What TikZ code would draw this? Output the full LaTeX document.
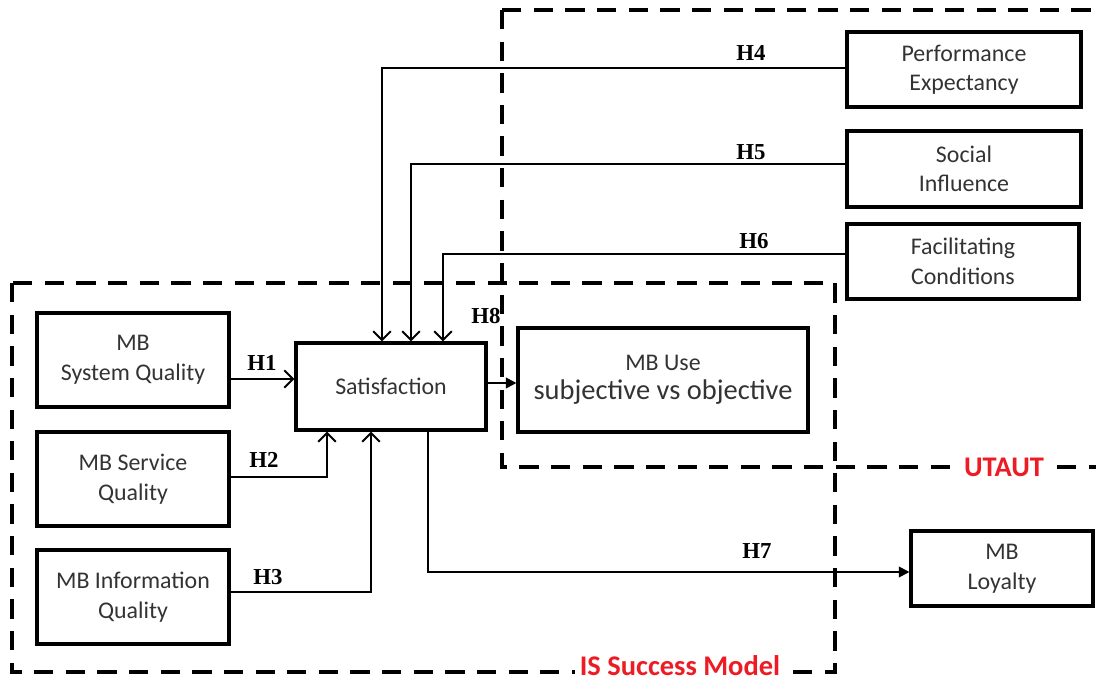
\documentclass[tikz,border=0pt]{standalone}
\usepackage{fontspec}
\setmainfont{Carlito}
\newfontfamily\hypfont{Liberation Serif}
\usetikzlibrary{arrows.meta, positioning}
\definecolor{modelred}{RGB}{237,28,36}

\begin{document}
\begin{tikzpicture}[
  x=0.02cm, y=-0.02cm,
  cons/.style={rectangle, draw, line width=1.8pt, text=black!80, align=center, inner sep=1pt, font=\fontsize{13.6}{16.8}\selectfont},
  hyp/.style={font=\hypfont\bfseries\fontsize{13}{15}\selectfont},
  lnk/.style={-{Straight Barb[length=5pt, width=10pt]}, line width=1.1pt},
  lnkf/.style={-{Triangle[length=6pt, width=6pt]}, line width=1.1pt},
  frame/.style={dash pattern=on 11pt off 7pt, line width=2.2pt},
  tag/.style={text=modelred, fill=white, inner xsep=3pt, inner ysep=0pt, font=\bfseries\fontsize{16.2}{18}\selectfont}
]
  \useasboundingbox (0,0) rectangle (1096,682);

  % model frames
  \draw[frame] (12,283) rectangle (835,672);
  \draw[frame] (502,10) rectangle (1130,467);

  % IS success side
  \node[cons, minimum width=3.84cm, minimum height=1.88cm] (sysq) at (133,360) {MB\\System Quality};
  \node[cons, minimum width=3.84cm, minimum height=1.88cm] (servq) at (133,479) {MB Service\\Quality};
  \node[cons, minimum width=3.84cm, minimum height=1.88cm] (infoq) at (133,597) {MB Information\\Quality};
  \node[cons, minimum width=3.8cm, minimum height=1.74cm] (sat) at (391,386.5) {Satisfaction};
  \node[cons, minimum width=5.8cm, minimum height=2.08cm] (use) at (663,380) {MB Use\\{\fontsize{16.2}{19}\selectfont subjective vs objective}};

  % UTAUT side
  \node[cons, minimum width=4.68cm, minimum height=1.5cm] (perf) at (964,69.5) {Performance\\Expectancy};
  \node[cons, minimum width=4.68cm, minimum height=1.52cm] (soc) at (964,169) {Social\\Influence};
  \node[cons, minimum width=4.64cm, minimum height=1.5cm] (fac) at (963,261.5) {Facilitating\\Conditions};
  \node[cons, minimum width=3.64cm, minimum height=1.5cm] (loy) at (1002,568.5) {MB\\Loyalty};

  \draw[lnk] (sysq.east |- 0,379) -- (sat.west |- 0,379);
  \draw[lnk] (servq.east |- 0,477) -| (sat.south -| 327,0);
  \draw[lnk] (infoq.east |- 0,592) -| (sat.south -| 371,0);
  \draw[lnk] (perf.west |- 0,68) -| (sat.north -| 382,0);
  \draw[lnk] (soc.west |- 0,164) -| (sat.north -| 411,0);
  \draw[lnk] (fac.west |- 0,254) -| (sat.north -| 443,0);
  \draw[lnkf] (sat.south -| 428,0) |- (loy.west |- 0,572);
  \draw[lnkf] (sat.east |- 0,383) -- (use.west |- 0,383);

  \node[hyp] (h1) at (262,363) {H1};
  \node[hyp] (h2) at (264,460) {H2};
  \node[hyp] (h3) at (268,577) {H3};
  \node[hyp] (h4) at (751,53) {H4};
  \node[hyp] (h5) at (751,152) {H5};
  \node[hyp] (h6) at (754,241) {H6};
  \node[hyp] (h7) at (757,551) {H7};
  \node[hyp] (h8) at (486,316) {H8};

  \node[tag] (utaut) at (1004,467) {UTAUT};
  \node[tag] (issm) at (680,666) {IS Success Model};
\end{tikzpicture}
\end{document}
